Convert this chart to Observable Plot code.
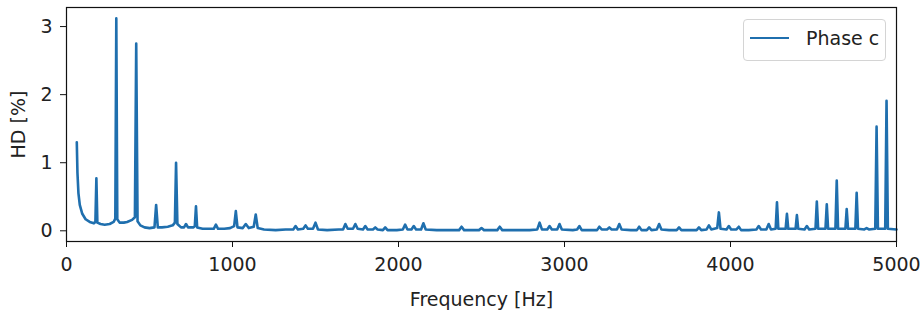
<!DOCTYPE html>
<html>
<head>
<meta charset="utf-8">
<script src="https://cdn.jsdelivr.net/npm/d3@7"></script>
<script src="https://cdn.jsdelivr.net/npm/@observablehq/plot@0.6"></script>
<style>
  html, body { margin: 0; padding: 0; background: #fff; }
  #wrap { position: relative; width: 920px; height: 313px; font-family: "DejaVu Sans", sans-serif; }
  #legend { position: absolute; left: 743px; top: 19px; width: 143px; height: 42px; box-sizing: border-box;
    border: 1px solid #d4d4d4; border-radius: 4px; background: rgba(255,255,255,0.85);
    display: flex; align-items: center; font-size: 19px; color: #222; }
  #legend .sw { width: 39px; height: 0; border-top: 2.6px solid #1f6fae; margin-left: 6px; margin-right: 17px; margin-top: -4px; }
  #legend .tx { margin-top: -5px; }
</style>
</head>
<body>
<div id="wrap"></div>
<script>
// Frequency (Hz) and harmonic distortion (%)
const freq = [
  62, 66, 72, 80, 95, 115, 140, 165, 174, 180, 186, 205, 230, 260, 284, 294, 300, 306, 320, 345, 365, 395, 412,
  420, 428, 445, 470, 500, 530, 540, 550, 575, 610, 640, 653, 660, 668, 690, 708, 720, 732, 765, 773, 780, 787,
  820, 860, 887, 900, 913, 950, 985, 1010, 1020, 1030, 1062, 1080, 1098, 1128, 1140, 1152, 1190, 1260, 1320,
  1366, 1380, 1394, 1426, 1440, 1454, 1485, 1500, 1515, 1570, 1640, 1666, 1680, 1694, 1726, 1740, 1754, 1786,
  1800, 1814, 1846, 1860, 1874, 1906, 1920, 1934, 1990, 2026, 2040, 2054, 2078, 2092, 2106, 2136, 2150, 2164,
  2230, 2365, 2380, 2395, 2485, 2500, 2515, 2595, 2610, 2625, 2700, 2790, 2836, 2850, 2864, 2896, 2910, 2924,
  2956, 2970, 2984, 3050, 3076, 3090, 3104, 3150, 3196, 3210, 3224, 3256, 3270, 3284, 3316, 3330, 3344, 3400,
  3436, 3450, 3464, 3496, 3510, 3524, 3556, 3570, 3584, 3630, 3676, 3690, 3704, 3750, 3796, 3810, 3824, 3856,
  3870, 3884, 3920, 3930, 3940, 3976, 3990, 4004, 4036, 4050, 4064, 4110, 4156, 4170, 4184, 4216, 4230, 4244,
  4272, 4280, 4288, 4332, 4340, 4348, 4392, 4400, 4408, 4446, 4460, 4474, 4512, 4520, 4528, 4572, 4580, 4588,
  4632, 4640, 4648, 4692, 4700, 4708, 4752, 4760, 4768, 4806, 4820, 4834, 4872, 4880, 4888, 4932, 4940, 4948, 5000
];
const hd = [
  1.30, 0.85, 0.55, 0.38, 0.25, 0.17, 0.13, 0.11, 0.13, 0.77, 0.12, 0.10, 0.09, 0.10, 0.13, 0.18, 3.12, 0.17, 0.12, 0.12, 0.13, 0.16, 0.20,
  2.75, 0.14, 0.08, 0.05, 0.04, 0.05, 0.38, 0.05, 0.05, 0.06, 0.08, 0.12, 1.00, 0.10, 0.05, 0.05, 0.10, 0.05, 0.05, 0.07, 0.36, 0.05,
  0.03, 0.03, 0.03, 0.09, 0.03, 0.03, 0.04, 0.07, 0.29, 0.05, 0.04, 0.10, 0.04, 0.06, 0.24, 0.04, 0.02, 0.01, 0.02,
  0.02, 0.07, 0.02, 0.03, 0.08, 0.03, 0.03, 0.12, 0.02, 0.01, 0.02, 0.02, 0.10, 0.03, 0.03, 0.10, 0.03, 0.02,
  0.07, 0.02, 0.02, 0.05, 0.02, 0.01, 0.05, 0.01, 0.01, 0.02, 0.09, 0.02, 0.02, 0.07, 0.02, 0.02, 0.11, 0.02,
  0.01, 0.01, 0.06, 0.01, 0.01, 0.04, 0.01, 0.01, 0.06, 0.01, 0.01, 0.01, 0.02, 0.12, 0.02, 0.02, 0.07, 0.02,
  0.02, 0.10, 0.02, 0.01, 0.02, 0.07, 0.01, 0.01, 0.01, 0.06, 0.02, 0.02, 0.05, 0.02, 0.02, 0.10, 0.02, 0.01,
  0.01, 0.06, 0.01, 0.01, 0.05, 0.01, 0.02, 0.10, 0.02, 0.01, 0.01, 0.05, 0.01, 0.01, 0.01, 0.05, 0.01, 0.02,
  0.08, 0.02, 0.04, 0.27, 0.03, 0.02, 0.07, 0.02, 0.02, 0.06, 0.01, 0.01, 0.02, 0.07, 0.02, 0.02, 0.10, 0.02,
  0.03, 0.42, 0.03, 0.03, 0.25, 0.03, 0.03, 0.23, 0.03, 0.02, 0.07, 0.02, 0.03, 0.43, 0.03, 0.03, 0.39, 0.03,
  0.03, 0.74, 0.03, 0.03, 0.32, 0.03, 0.03, 0.56, 0.03, 0.02, 0.04, 0.02, 0.03, 1.53, 0.03, 0.03, 1.91, 0.03, 0.02
];
const xTicks = [0, 1000, 2000, 3000, 4000, 5000];
const yTicks = [0, 1, 2, 3];
const seriesName = "Phase c";

const data = freq.map((f, i) => ({f, hd: hd[i]}));

const chart = Plot.plot({
  width: 920,
  height: 313,
  marginLeft: 66,
  marginRight: 24,
  marginTop: 7,
  marginBottom: 72,
  style: {fontFamily: "DejaVu Sans, sans-serif", fontSize: "19px", color: "#222", background: "#fff", overflow: "visible"},
  x: {domain: [0, 5000]},
  y: {domain: [-0.157, 3.28]},
  marks: [
    Plot.line(data, {x: "f", y: "hd", stroke: "#1f6fae", strokeWidth: 2.6, strokeLinejoin: "round", curve: "linear"}),
    Plot.frame({stroke: "#111", strokeWidth: 1.2}),
    Plot.axisX({ticks: xTicks, tickFormat: d => String(d), tickSize: 6, tickPadding: 10, stroke: "#111",
      label: "Frequency [Hz]", labelAnchor: "center", labelArrow: "none", labelOffset: 64}),
    Plot.axisY({ticks: yTicks, tickFormat: d => String(d), tickSize: 6, tickPadding: 8, stroke: "#111",
      label: "HD [%]", labelAnchor: "center", labelArrow: "none", labelOffset: 55})
  ]
});

const wrap = document.getElementById("wrap");
wrap.appendChild(chart);
const leg = document.createElement("div");
leg.id = "legend";
leg.innerHTML = `<div class="sw"></div><div class="tx">${seriesName}</div>`;
wrap.appendChild(leg);
</script>
</body>
</html>
